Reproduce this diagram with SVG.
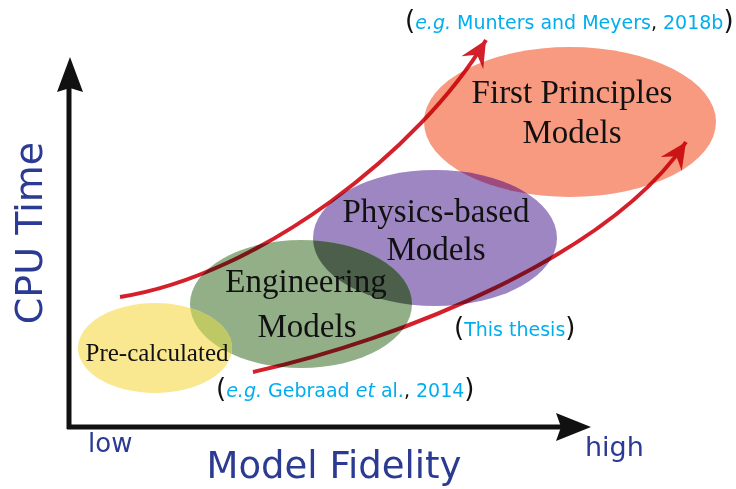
<svg xmlns="http://www.w3.org/2000/svg" width="736" height="489" viewBox="0 0 736 489">
<style>
.serif{font-family:"Liberation Serif","Times New Roman",serif;fill:#111;text-anchor:middle}
.axl{font-family:"DejaVu Sans",sans-serif;fill:#2b3a92}
.cite{font-family:"DejaVu Sans",sans-serif;font-size:19px;fill:#00aeef}
.par{fill:#111;font-size:26px}
.blk{fill:#111}
.it{font-style:italic}
.curve{fill:none;stroke:#d4202a;stroke-width:4;mix-blend-mode:multiply}
</style>
<defs>
<ellipse id="eY" cx="155" cy="348" rx="77" ry="45"/>
<ellipse id="eG" cx="301" cy="304" rx="111" ry="64"/>
<ellipse id="eP" cx="435" cy="238" rx="122" ry="68"/>
<ellipse id="eS" cx="570" cy="122" rx="146" ry="75"/>
<clipPath id="cG"><use href="#eG"/></clipPath>
<clipPath id="cP"><use href="#eP"/></clipPath>
<marker id="rh" markerUnits="userSpaceOnUse" markerWidth="30" markerHeight="30" viewBox="-24 -12 26 24" refX="0" refY="0" orient="auto">
<path d="M0,0 L-23,-11 L-15,0 L-23,11 Z" fill="#d4202a"/>
</marker>
</defs>

<g id="node-salmon"><use href="#eS" fill="#f79a80"/></g>
<g id="node-purple"><use href="#eP" fill="#9e86c3"/><use href="#eS" fill="#9f4b7e" clip-path="url(#cP)"/></g>
<g id="node-green"><use href="#eG" fill="#93af88"/><use href="#eP" fill="#4b5f4b" clip-path="url(#cG)"/></g>
<g id="node-yellow"><use href="#eY" fill="#f9e88f"/><use href="#eY" fill="#bec864" clip-path="url(#cG)"/></g>

<g id="axes" fill="#111" stroke="#111">
<line x1="69" y1="85" x2="69" y2="429" stroke-width="5"/>
<line x1="67" y1="427" x2="562" y2="427" stroke-width="5"/>
<path d="M70,57 L83,92 L70,88 L57,92 Z" stroke="none"/>
<path d="M591,427 L556,413 L561,427 L556,441 Z" stroke="none"/>
</g>

<g id="connectors">
<path class="curve" d="M120,297 C260,275 420,150 486,40" marker-end="url(#rh)"/>
<path class="curve" d="M253,372 C400,340 610,255 686,142" marker-end="url(#rh)"/>
</g>

<g id="labels">
<text class="serif" font-size="33" x="572" y="103">First Principles</text>
<text class="serif" font-size="33" x="572" y="143">Models</text>
<text class="serif" font-size="33" x="436" y="222">Physics-based</text>
<text class="serif" font-size="33" x="436" y="260">Models</text>
<text class="serif" font-size="33" x="306" y="292">Engineering</text>
<text class="serif" font-size="33" x="307" y="337">Models</text>
<text class="serif" font-size="25" x="157" y="361">Pre-calculated</text>
</g>

<g id="citations">
<text class="cite" x="405" y="29" font-size="18.3"><tspan class="par">(</tspan><tspan class="it">e.g.</tspan> Munters and Meyers<tspan class="blk">,</tspan> 2018b<tspan class="par">)</tspan></text>
<text class="cite" x="454" y="336"><tspan class="par">(</tspan>This thesis<tspan class="par">)</tspan></text>
<text class="cite" x="216" y="397"><tspan class="par">(</tspan><tspan class="it">e.g.</tspan> Gebraad <tspan class="it">et</tspan> al.<tspan class="blk">,</tspan> 2014<tspan class="par">)</tspan></text>
</g>

<g id="axis-labels">
<text class="axl" font-size="38" transform="translate(42,233) rotate(-90)" text-anchor="middle">CPU Time</text>
<text class="axl" font-size="37" x="334" y="478" text-anchor="middle">Model Fidelity</text>
<text class="axl" font-size="26" x="88" y="452">low</text>
<text class="axl" font-size="27" x="585" y="456">high</text>
</g>
</svg>
